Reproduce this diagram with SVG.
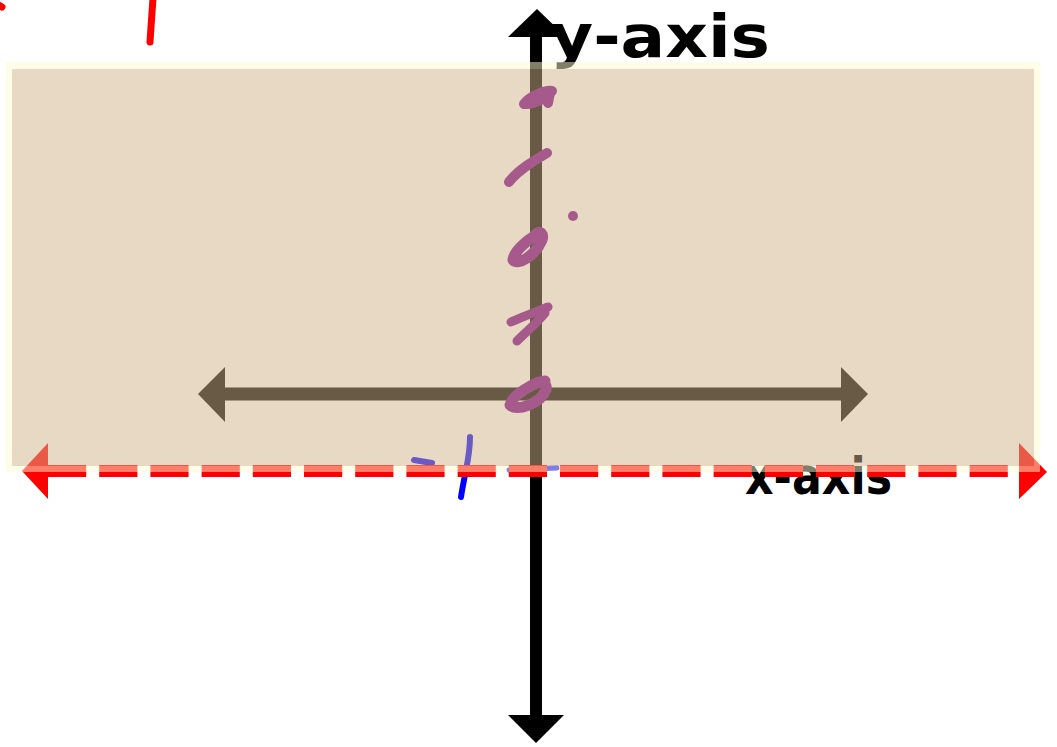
<svg xmlns="http://www.w3.org/2000/svg" width="1057" height="747" viewBox="0 0 1057 747">
<style>
.axis{stroke:#000;stroke-width:12;fill:none}
.head{fill:#000}
.red{stroke:#ff0000;fill:none;stroke-linecap:round}
.blue{stroke:#0000ff;fill:none;stroke-linecap:round;stroke-width:6}
.pink{stroke:#a65a8b;fill:none;stroke-linecap:round;stroke-linejoin:round}
.hand{font-family:"DejaVu Sans",sans-serif;font-weight:bold;fill:#000}
</style>
<rect width="1057" height="747" fill="#fff"/>
<g id="y-axis">
<line class="axis" x1="536" y1="36" x2="536" y2="716"/>
<polygon class="head" points="537,9 508,37 566,37"/>
<polygon class="head" points="536,743 508,715 564,715"/>
</g>
<g id="x-axis-black">
<line class="axis" x1="224" y1="394" x2="842" y2="394" style="stroke-width:13"/>
<polygon class="head" points="198,394 225,367 225,422"/>
<polygon class="head" points="868,394 841,367 841,422"/>
</g>
<g id="labels">
<text class="hand" x="550" y="57" font-size="58" textLength="220" lengthAdjust="spacingAndGlyphs">y-axis</text>
<text class="hand" x="745" y="494" font-size="52" textLength="147" lengthAdjust="spacingAndGlyphs">x-axis</text>
</g>
<g id="blue-marks">
<line class="blue" x1="414" y1="460" x2="432" y2="463"/>
<path class="blue" d="M470,437 C470,450 468,460 466,470 C464,480 462,490 461,497"/>
<line class="blue" x1="509" y1="470" x2="557" y2="468" style="stroke-width:5"/>
</g>
<g id="connectors">
<line x1="48" y1="471" x2="1019" y2="471" stroke="#ff0000" stroke-width="12" stroke-dasharray="38.2 13"/>
<polygon fill="#ff0000" points="22,471 48,443 48,499"/>
<polygon fill="#ff0000" points="1047,472 1019,443 1019,499"/>
</g>
<g id="red-marks">
<line class="red" x1="153" y1="-2" x2="150" y2="42" stroke-width="7"/>
<line class="red" x1="-10" y1="0" x2="2" y2="7" stroke-width="7"/>
</g>
<g id="shaded-region">
<path fill="rgb(255,250,210)" fill-opacity="0.5" fill-rule="evenodd" d="M6,62 H1040 V472 H6 Z M12,69 V466 H1034 V69 Z"/>
<rect x="12" y="69" width="1022" height="397" fill="rgb(210,180,140)" fill-opacity="0.5"/>
</g>
<g id="pink-marks">
<path class="pink" stroke-width="10" d="M524,104 C530,96 545,90 552,91 C548,97 535,104 526,104 M550,92 L548,103"/>
<path class="pink" stroke-width="10" d="M547,153 C535,160 518,170 509,182"/>
<circle cx="573" cy="216" r="5" fill="#a65a8b"/>
<path class="pink" stroke-width="11" d="M541,233 C532,236 514,250 513,260 C518,266 535,256 542,240 C544,234 540,230 536,234"/>
<path class="pink" stroke-width="9" d="M511,322 C520,318 538,311 548,307 M545,313 C538,322 526,332 517,341"/>
<path class="pink" stroke-width="11" d="M545,381 C535,382 512,395 510,405 C516,412 540,404 546,390 C548,383 540,380 535,384"/>
</g>
</svg>
